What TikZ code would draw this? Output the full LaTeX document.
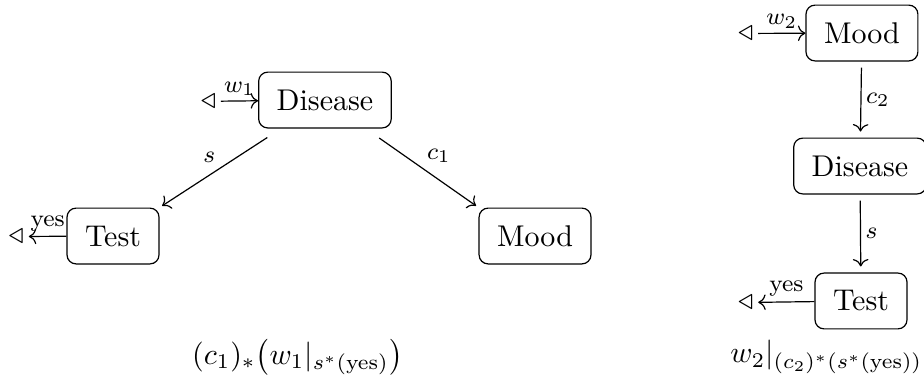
\documentclass[tikz,border=0pt]{standalone}
\usepackage{amsmath,amssymb}
\usetikzlibrary{arrows.meta}

\tikzset{
  >={Computer Modern Rightarrow},
  var/.style={draw, rounded corners=3pt, inner xsep=6pt, minimum height=18.6pt},
  src/.style={inner sep=1.5pt},
  lbl/.style={font=\footnotesize, inner sep=1.5pt},
  map/.style={->, shorten <=2pt, shorten >=2pt},
}

\begin{document}
\begin{tikzpicture}
  \useasboundingbox (0,0) rectangle (10.825,4.487);

  % left: state on Disease, pushed forward along c1 after conditioning on the test
  \node [var] (dis1) at (3.807,3.315) {Disease};
  \node [var] (test1) at (1.324,1.722) {Test};
  \node [var] (mood1) at (6.268,1.722) {Mood};
  \node [src] (w1) at (2.440,3.300) {$\triangleleft$};
  \node [src] (yes1) at (0.190,1.716) {$\triangleleft$};

  \draw [->] (w1) -- node [lbl, above] {$w_1$} (dis1);
  \draw [->] (test1) -- node [lbl, above] {yes} (yes1);
  \draw [->, shorten <=5.5pt, shorten >=1pt] (dis1) -- node [lbl, auto, swap] {$s$} (test1.north east);
  \draw [->, shorten <=5.5pt, shorten >=1pt] (dis1) -- node [lbl, auto] {$c_1$} (mood1.north west);

  \node (res1) at (3.485,0.305) {$(c_1)_*\bigl(w_1|_{s^*(\mathrm{yes})}\bigr)$};

  % right: state on Mood, conditioned on the pulled back test result
  \node [var] (mood2) at (10.098,4.100) {Mood};
  \node [var] (dis2) at (10.075,2.542) {Disease};
  \node [var] (test2) at (10.087,0.961) {Test};
  \node [src] (w2) at (8.735,4.095) {$\triangleleft$};
  \node [src] (yes2) at (8.735,0.943) {$\triangleleft$};

  \draw [->] (w2) -- node [lbl, above] {$w_2$} (mood2);
  \draw [map] (mood2) -- node [lbl, auto] {$c_2$} (dis2);
  \draw [map] (dis2) -- node [lbl, auto] {$s$} (test2);
  \draw [->] (test2) -- node [lbl, above] {yes} (yes2);

  \node [anchor=east] (res2) at (10.93,0.305) {$w_2|_{(c_2)^*(s^*(\mathrm{yes}))}$};
\end{tikzpicture}
\end{document}
